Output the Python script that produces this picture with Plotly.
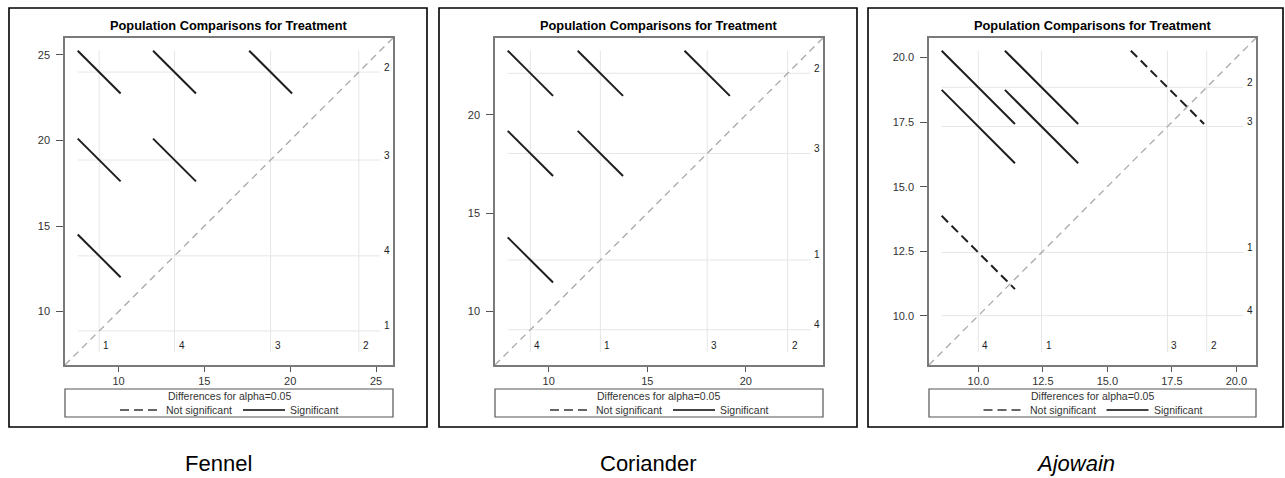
import plotly.graph_objects as go

W, H = 1285, 478

# ---------------- data ----------------
treatments = ["1", "2", "3", "4"]
fennel_means = [8.87, 24.00, 18.86, 13.26]
coriander_means = [12.62, 22.12, 18.04, 9.07]
ajowain_means = [12.45, 18.85, 17.33, 10.00]
ci_widths = [2.50, 2.30, 2.84]          # full width of the pairwise-difference interval
panel_names = ["Fennel", "Coriander", "Ajowain"]
panel_means = [fennel_means, coriander_means, ajowain_means]
tick_steps = [5, 5, 2.5]
tick_formats = ["d", "d", ".1f"]
title_text = "Population Comparisons for Treatment"
legend_title = "Differences for alpha=0.05"
legend_ns = "Not significant"
legend_sig = "Significant"

# ---------------- layout (pixels) ----------------
plot_left = [65, 495, 929]
plot_right = [393, 823, 1256]
plot_top, plot_bottom = 38, 365
outer_left = [9, 439, 868]
outer_right = [427, 857, 1283]
outer_top, outer_bottom = 8, 427
leg_top, leg_bottom = 389, 417

FONT = "Liberation Sans, Arial, sans-serif"
SEG_COLOR = "#1e1e1e"
REF_COLOR = "#e6e6e6"
DIAG_COLOR = "#a8a8a8"
FRAME_COLOR = "#7a7a7a"
TEXT_COLOR = "#333333"


def px(x):
    return x / W


def py(y):
    return 1 - y / H


fig = go.Figure()
shapes = []
annotations = []

for k in range(3):
    means = panel_means[k]
    h = ci_widths[k] / 2.0
    rlo = min(means) - h
    rhi = max(means) + h
    pad = 0.042 * (rhi - rlo)
    alo, ahi = rlo - pad, rhi + pad
    xa = "x" if k == 0 else f"x{k + 1}"
    ya = "y" if k == 0 else f"y{k + 1}"
    xkey = "xaxis" if k == 0 else f"xaxis{k + 1}"
    ykey = "yaxis" if k == 0 else f"yaxis{k + 1}"

    # reference lines at each mean
    rx, ry = [], []
    for m in means:
        rx += [rlo, rhi, None, m, m, None]
        ry += [m, m, None, rlo, rhi, None]
    fig.add_trace(go.Scatter(x=rx, y=ry, mode="lines", xaxis=xa, yaxis=ya,
                             line=dict(color=REF_COLOR, width=1),
                             hoverinfo="skip", showlegend=False))
    # diagonal
    fig.add_trace(go.Scatter(x=[alo, ahi], y=[alo, ahi], mode="lines", xaxis=xa, yaxis=ya,
                             line=dict(color=DIAG_COLOR, width=1.3, dash="7px,5px"),
                             hoverinfo="skip", showlegend=False))
    # pairwise difference segments
    sx, sy, nx, ny = [], [], [], []
    for i in range(len(means)):
        for j in range(i + 1, len(means)):
            lo_m, hi_m = sorted([means[i], means[j]])
            xs = [lo_m - h, lo_m + h, None]
            ys = [hi_m + h, hi_m - h, None]
            if hi_m - lo_m > ci_widths[k]:
                sx += xs
                sy += ys
            else:
                nx += xs
                ny += ys
    if sx:
        fig.add_trace(go.Scatter(x=sx, y=sy, mode="lines", xaxis=xa, yaxis=ya,
                                 line=dict(color=SEG_COLOR, width=2),
                                 hoverinfo="skip", showlegend=False))
    if nx:
        fig.add_trace(go.Scatter(x=nx, y=ny, mode="lines", xaxis=xa, yaxis=ya,
                                 line=dict(color=SEG_COLOR, width=2, dash="9px,5px"),
                                 hoverinfo="skip", showlegend=False))

    # labels on the reference lines
    for t, m in zip(treatments, means):
        annotations.append(dict(x=rhi, y=m, xref=xa, yref=ya, text=t, showarrow=False,
                                xanchor="left", yanchor="middle", xshift=2, yshift=5,
                                font=dict(family=FONT, size=10, color="#222222")))
        annotations.append(dict(x=m, y=rlo, xref=xa, yref=ya, text=t, showarrow=False,
                                xanchor="left", yanchor="bottom", xshift=2, yshift=-1,
                                font=dict(family=FONT, size=10, color="#222222")))

    fmt = tick_formats[k]
    common = dict(range=[alo, ahi], showgrid=False, zeroline=False, showline=True,
                  mirror=True, linecolor=FRAME_COLOR, linewidth=1.5,
                  ticks="outside", tickcolor="#555555", tickwidth=1.2,
                  tick0=0, dtick=tick_steps[k],
                  tickformat=(".1f" if fmt == ".1f" else "d"),
                  tickfont=dict(family=FONT, size=11, color=TEXT_COLOR))
    fig.update_layout(**{
        xkey: dict(common, domain=[px(plot_left[k]), px(plot_right[k])], anchor=ya, ticklen=5),
        ykey: dict(common, domain=[py(plot_bottom), py(plot_top)], anchor=xa, ticklen=7,
                   ticklabelstandoff=4),
    })

    cx = (plot_left[k] + plot_right[k]) / 2
    # title
    annotations.append(dict(x=px(cx), y=py(26), xref="paper", yref="paper",
                            text=f"<b>{title_text}</b>", showarrow=False,
                            xanchor="center", yanchor="middle",
                            font=dict(family=FONT, size=12.8, color="#000000")))
    # outer box
    shapes.append(dict(type="rect", xref="paper", yref="paper",
                       x0=px(outer_left[k]), x1=px(outer_right[k]),
                       y0=py(outer_bottom), y1=py(outer_top),
                       line=dict(color="#000000", width=1.6)))
    # legend box
    shapes.append(dict(type="rect", xref="paper", yref="paper",
                       x0=px(plot_left[k]), x1=px(plot_right[k]),
                       y0=py(leg_bottom), y1=py(leg_top),
                       line=dict(color="#555555", width=1.2)))
    annotations.append(dict(x=px(cx), y=py(396), xref="paper", yref="paper",
                            text=legend_title, showarrow=False,
                            xanchor="center", yanchor="middle",
                            font=dict(family=FONT, size=10.5, color=TEXT_COLOR)))
    shapes.append(dict(type="line", xref="paper", yref="paper",
                       x0=px(cx - 109), x1=px(cx - 72), y0=py(410), y1=py(410),
                       line=dict(color="#666666", width=2, dash="9px,5px")))
    annotations.append(dict(x=px(cx - 65), y=py(410), xref="paper", yref="paper",
                            text=legend_ns, showarrow=False,
                            xanchor="left", yanchor="middle",
                            font=dict(family=FONT, size=10.5, color=TEXT_COLOR)))
    shapes.append(dict(type="line", xref="paper", yref="paper",
                       x0=px(cx + 14), x1=px(cx + 56), y0=py(410), y1=py(410),
                       line=dict(color="#444444", width=2)))
    annotations.append(dict(x=px(cx + 59), y=py(410), xref="paper", yref="paper",
                            text=legend_sig, showarrow=False,
                            xanchor="left", yanchor="middle",
                            font=dict(family=FONT, size=10.5, color=TEXT_COLOR)))
    # caption
    ocx = (outer_left[k] + outer_right[k]) / 2
    cap = f"<i>{panel_names[k]}</i>" if k == 2 else panel_names[k]
    annotations.append(dict(x=px(ocx), y=py(463), xref="paper", yref="paper",
                            text=cap, showarrow=False, xanchor="center", yanchor="middle",
                            font=dict(family=FONT, size=22, color="#000000")))

fig.update_layout(width=W, height=H, margin=dict(l=0, r=0, t=0, b=0),
                  paper_bgcolor="white", plot_bgcolor="white",
                  showlegend=False, shapes=shapes, annotations=annotations)

fig.write_html("out.html")
